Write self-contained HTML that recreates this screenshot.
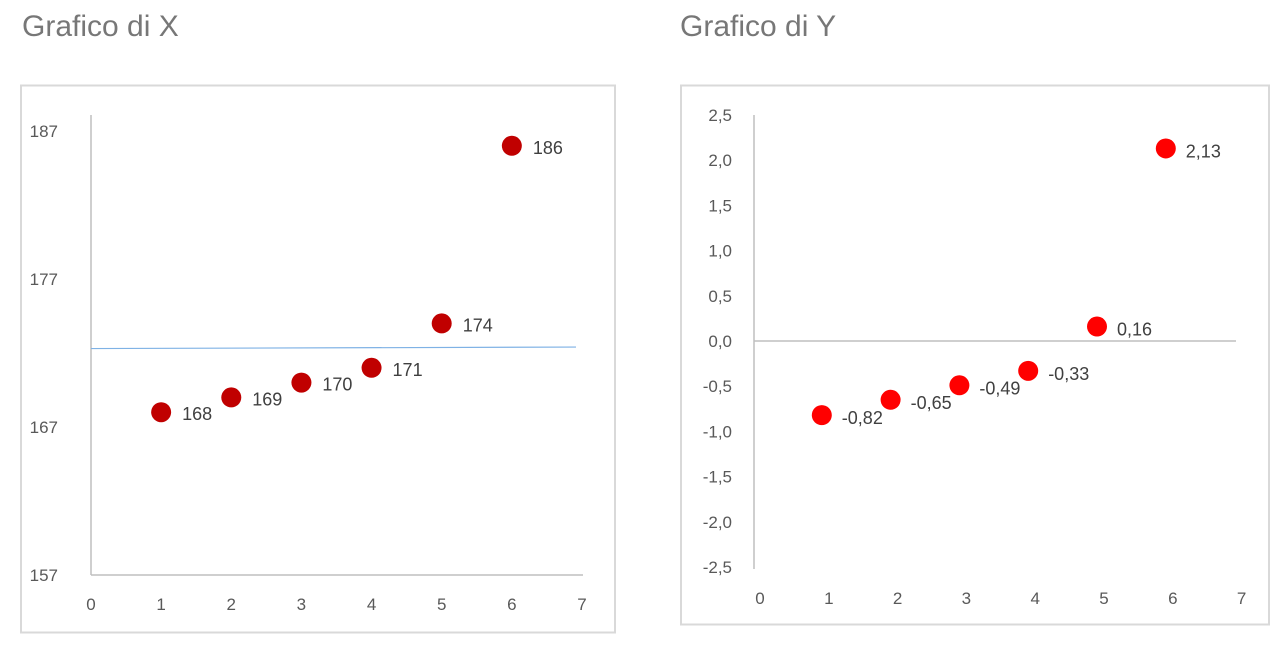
<!DOCTYPE html>
<html><head><meta charset="utf-8"><style>
body{margin:0;width:1288px;height:650px;background:#fff;overflow:hidden;font-family:"Liberation Sans",sans-serif}
.t{position:absolute;font-size:30px;color:#777;top:10px}
svg{position:absolute;left:0;top:0}
</style></head><body>
<div class="t" style="left:22px">Grafico di X</div>
<div class="t" style="left:680px">Grafico di Y</div>
<svg width="1288" height="650" id="s"></svg>
<script>
const xCats=[1,2,3,4,5,6];
const xVals=[168,169,170,171,174,186];
const xLabels=["168","169","170","171","174","186"];
const xMeanLine=172.3;
const xTicksY=[157,167,177,187];
const xTicksX=[0,1,2,3,4,5,6,7];
const yCats=[1,2,3,4,5,6];
const yVals=[-0.82,-0.65,-0.49,-0.33,0.16,2.13];
const yLabels=["-0,82","-0,65","-0,49","-0,33","0,16","2,13"];
const yTicksY=[-2.5,-2,-1.5,-1,-0.5,0,0.5,1,1.5,2,2.5];
const yTicksX=[0,1,2,3,4,5,6,7];
const s=document.getElementById('s');const NS='http://www.w3.org/2000/svg';
function el(t,a,txt){const e=document.createElementNS(NS,t);for(const k in a)e.setAttribute(k,a[k]);if(txt!==undefined)e.textContent=txt;s.appendChild(e);return e;}
let e=el('rect',{x:21,y:85.5,width:594,height:547,fill:'none',stroke:'#d9d9d9','stroke-width':2});

const ax=v=>91+v*70.14, ay=v=>575-(v-157)*14.8;
e=el('line',{x1:91,y1:115,x2:91,y2:575,stroke:'#bfbfbf','stroke-width':1.5});

e=el('line',{x1:91,y1:575,x2:583,y2:575,stroke:'#bfbfbf','stroke-width':1.5});

xTicksY.forEach(v=>{const t=el('text',{x:58,y:ay(v)+6,'text-anchor':'end','font-size':17,fill:'#595959'},String(v));
});
xTicksX.forEach(v=>{const t=el('text',{x:ax(v),y:610,'text-anchor':'middle','font-size':17,fill:'#595959'},String(v));
});
e=el('line',{x1:91,y1:ay(xMeanLine),x2:576,y2:ay(xMeanLine)-1.5,stroke:'#7fb2e5','stroke-width':1.2});

xVals.forEach((v,i)=>{const c=el('circle',{cx:ax(xCats[i]),cy:ay(v),r:10,fill:'#c00000'});

const t=el('text',{x:ax(xCats[i])+21,y:ay(v)+8,'font-size':18,fill:'#404040'},xLabels[i]);
});
e=el('rect',{x:681,y:85.5,width:588,height:539,fill:'none',stroke:'#d9d9d9','stroke-width':2});

const bx=v=>754+v*68.8, by=v=>341-v*90.4;
e=el('line',{x1:754,y1:115,x2:754,y2:569,stroke:'#bfbfbf','stroke-width':1.5});

e=el('line',{x1:754,y1:341,x2:1236,y2:341,stroke:'#bfbfbf','stroke-width':1.5});

yTicksY.forEach(v=>{const t=el('text',{x:732,y:by(v)+6,'text-anchor':'end','font-size':17,fill:'#595959'},v.toFixed(1).replace('.',','));
});
yTicksX.forEach(v=>{const t=el('text',{x:bx(v)+6,y:604,'text-anchor':'middle','font-size':17,fill:'#595959'},String(v));
});
yVals.forEach((v,i)=>{const c=el('circle',{cx:bx(yCats[i])-1,cy:by(v),r:10,fill:'#ff0000'});

const t=el('text',{x:bx(yCats[i])+19,y:by(v)+9,'font-size':18,fill:'#404040'},yLabels[i]);
});
</script>
</body></html>
